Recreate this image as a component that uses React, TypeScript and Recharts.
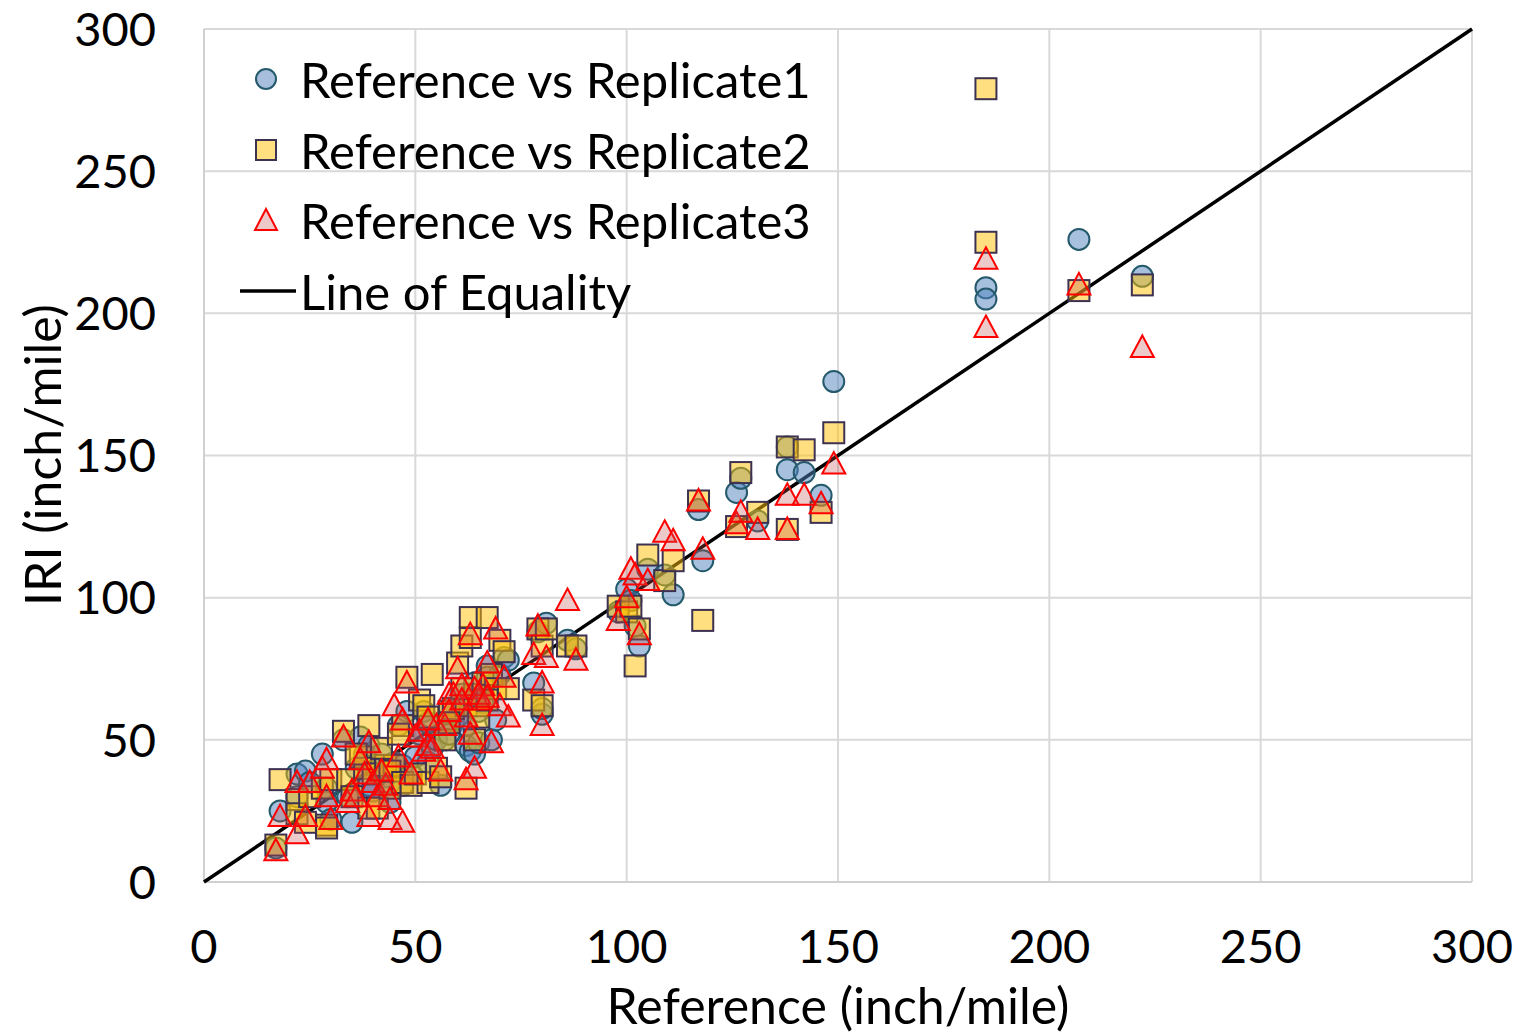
import React from 'react';
import { ScatterChart, Scatter, XAxis, YAxis, CartesianGrid } from 'recharts';

// Reference IRI values (inch/mile)
const refX = [17, 18, 22, 22, 24, 25, 28, 29, 30, 29, 33, 34, 35, 37, 38, 39, 39, 40, 41, 43, 44, 45, 44, 47, 47, 48, 49, 50, 51, 52, 53, 54, 55, 56, 57, 58, 59, 60, 61, 62, 62, 63, 63, 64, 64, 65, 66, 67, 68, 69, 70, 71, 72, 78, 79, 80, 80, 81, 86, 88, 98, 100, 101, 102, 103, 105, 109, 111, 117, 118, 126, 127, 131, 138, 138, 142, 146, 149, 185, 185, 207, 222, 36, 42, 46, 53, 58, 61, 65, 67];
const rep1 = [12, 25, 38, 30, 39, 35, 45, 28, 22, 33, 50, 30, 21, 51, 45, 34, 48, 32, 40, 37, 28, 42, 35, 41, 34, 60, 38, 44, 52, 60, 42, 47, 50, 34, 50, 61, 56, 58, 62, 48, 55, 46, 65, 45, 70, 49, 63, 76, 50, 57, 73, 79, 78, 70, 88, 59, 61, 91, 85, 82, 95, 103, 99, 90, 83, 110, 108, 101, 131, 113, 137, 142, 127, 145, 153, 144, 136, 176, 209, 205, 226, 213, 40, 45, 55, 56, 52, 66, 60, 72];
const rep2 = [13, 36, 29, 24, 21, 30, 33, 20, 36, 19, 53, 36, 30, 44, 40, 55, 26, 38, 26, 41, 33, 41, 39, 35, 55, 72, 34, 38, 64, 62, 35, 73, 40, 37, 50, 60, 61, 77, 83, 33, 62, 86, 93, 50, 66, 62, 70, 93, 73, 68, 85, 81, 68, 64, 89, 62, 83, 89, 83, 83, 97, 95, 97, 76, 89, 115, 106, 113, 134, 92, 125, 144, 130, 153, 124, 152, 130, 158, 279, 225, 208, 210, 45, 47, 52, 58, 56, 68, 58, 64];
const rep3 = [11, 23, 35, 17, 23, 35, 40, 43, 22, 30, 51, 28, 32, 43, 38, 49, 23, 35, 30, 34, 22, 62, 29, 21, 57, 70, 38, 51, 53, 46, 48, 47, 55, 39, 55, 66, 66, 75, 69, 36, 58, 52, 87, 40, 68, 64, 69, 77, 49, 89, 62, 72, 58, 80, 90, 70, 55, 79, 99, 78, 92, 100, 110, 108, 87, 106, 123, 120, 134, 117, 126, 130, 124, 136, 124, 136, 133, 147, 219, 195, 210, 188, 30, 39, 44, 57, 60, 64, 66, 65];
const equalityLine = [0, 300];
const xTicks = [0, 50, 100, 150, 200, 250, 300];
const yTicks = [0, 50, 100, 150, 200, 250, 300];

const seriesNames = ['Reference vs Replicate1', 'Reference vs Replicate2', 'Reference vs Replicate3', 'Line of Equality'];

const d1 = refX.map((x, i) => ({ x, y: rep1[i] }));
const d2 = refX.map((x, i) => ({ x, y: rep2[i] }));
const d3 = refX.map((x, i) => ({ x, y: rep3[i] }));
const dEq = equalityLine.map((v) => ({ x: v, y: v }));

const FONT = 'Lato, "Open Sans", sans-serif';
const FS_TICK = 47;
const FS = 50;
const FS_LEG = 49;

const C1 = { fill: 'rgba(79,129,189,0.5)', stroke: '#245a6b' };
const C2 = { fill: 'rgba(255,192,0,0.5)', stroke: '#3d3152' };
const C3 = { fill: 'rgba(192,80,77,0.3)', stroke: '#ff0000' };

const CircleShape = (p: any) => (
  <circle cx={p.cx} cy={p.cy} r={10.5} fill={C1.fill} stroke={C1.stroke} strokeWidth={2} />
);
const SquareShape = (p: any) => (
  <rect x={p.cx - 10.5} y={p.cy - 10.5} width={21} height={21} fill={C2.fill} stroke={C2.stroke} strokeWidth={2} />
);
const TriShape = (p: any) => (
  <polygon
    points={`${p.cx},${p.cy - 12} ${p.cx + 11.5},${p.cy + 9.5} ${p.cx - 11.5},${p.cy + 9.5}`}
    fill={C3.fill}
    stroke={C3.stroke}
    strokeWidth={2}
  />
);
const NoShape = () => null;

const LegendBox = () => {
  const icons = [
    <svg width={70} height={40} key="a"><circle cx={36} cy={20} r={10} fill="#a7bfdc" stroke={C1.stroke} strokeWidth={2} /></svg>,
    <svg width={70} height={40} key="b"><rect x={26} y={10} width={20} height={20} fill="#ffdf80" stroke={C2.stroke} strokeWidth={2} /></svg>,
    <svg width={70} height={40} key="c"><polygon points="36,8 47,29 25,29" fill="#ecc9c8" stroke={C3.stroke} strokeWidth={2} /></svg>,
    <svg width={70} height={40} key="d"><line x1={10} y1={20} x2={66} y2={20} stroke="#000" strokeWidth={3.5} /></svg>,
  ];
  return (
    <div style={{ position: 'absolute', left: 230, top: 44, fontFamily: FONT, fontSize: FS_LEG, color: '#000', lineHeight: 1 }}>
      {seriesNames.map((n, i) => (
        <div key={n} style={{ display: 'flex', alignItems: 'center', height: 70.7 }}>
          {icons[i]}
          <span style={{ whiteSpace: 'nowrap' }}>{n}</span>
        </div>
      ))}
    </div>
  );
};

const YLabel = () => (
  <text
    x={42}
    y={455}
    transform="rotate(-90 42 455)"
    textAnchor="middle"
    dominantBaseline="central"
    fontFamily={FONT}
    fontSize={FS}
    fill="#000"
  >
    IRI (inch/mile)
  </text>
);

export default function App() {
  return (
    <div style={{ position: 'absolute', left: 0, top: 0, width: 1525, height: 1036, background: '#fff' }}>
      <ScatterChart width={1525} height={1036} margin={{ top: 29, right: 53, bottom: 0, left: 0 }}>
        <CartesianGrid stroke="#d9d9d9" strokeWidth={2} />
        <XAxis
          type="number"
          dataKey="x"
          domain={[0, 300]}
          ticks={xTicks}
          interval={0}
          height={154}
          tickSize={0}
          tickMargin={48}
          axisLine={{ stroke: '#d0d0d0', strokeWidth: 2 }}
          tick={{ fill: '#000', fontSize: FS_TICK, fontFamily: FONT }}
          label={{ value: 'Reference (inch/mile)', position: 'insideBottom', offset: 12, fill: '#000', fontSize: FS, fontFamily: FONT }}
        />
        <YAxis
          type="number"
          dataKey="y"
          domain={[0, 300]}
          ticks={yTicks}
          interval={0}
          width={204}
          tickSize={0}
          tickMargin={48}
          axisLine={{ stroke: '#d0d0d0', strokeWidth: 2 }}
          tick={{ fill: '#000', fontSize: FS_TICK, fontFamily: FONT }}
          label={<YLabel />}
        />
        <Scatter name={seriesNames[3]} data={dEq} line={{ stroke: '#000', strokeWidth: 3.5 }} shape={NoShape} isAnimationActive={false} />
        <Scatter name={seriesNames[0]} data={d1} shape={CircleShape} isAnimationActive={false} />
        <Scatter name={seriesNames[1]} data={d2} shape={SquareShape} isAnimationActive={false} />
        <Scatter name={seriesNames[2]} data={d3} shape={TriShape} isAnimationActive={false} />
      </ScatterChart>
      <LegendBox />
    </div>
  );
}
